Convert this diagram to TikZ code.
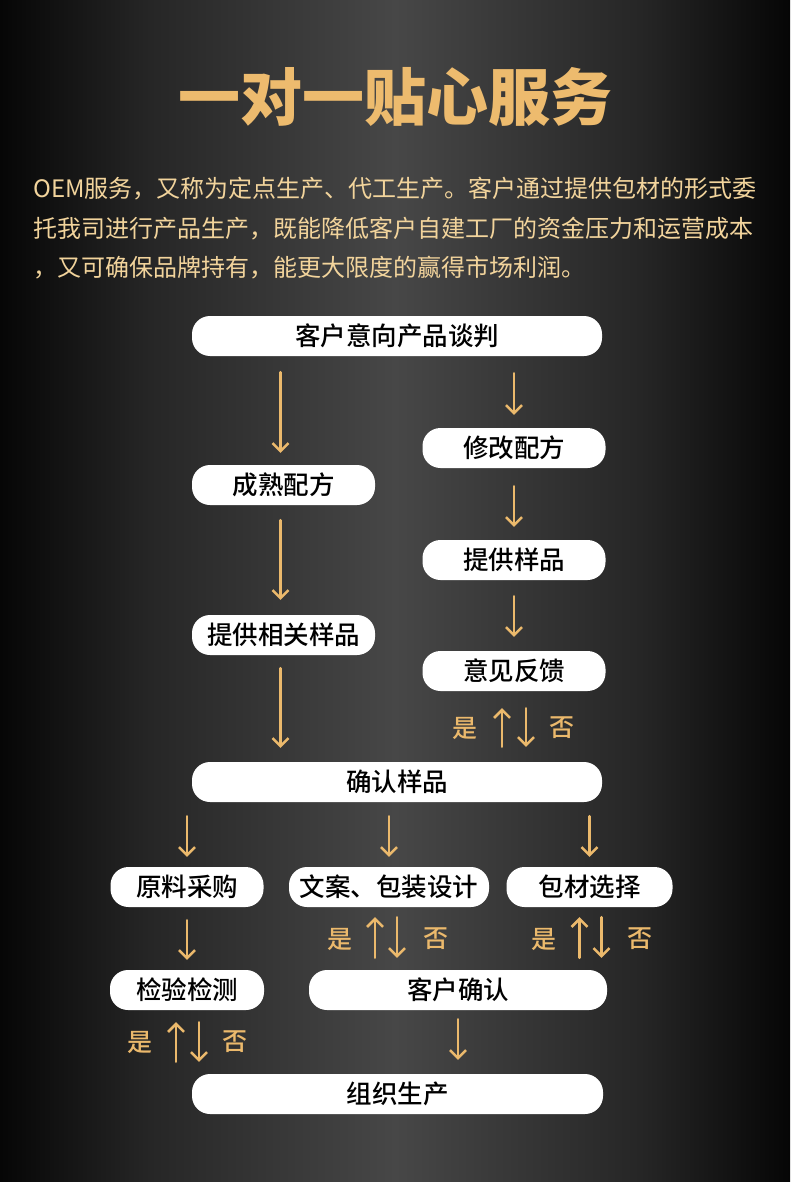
\documentclass[tikz,border=0pt]{standalone}
\usepackage{fontspec}
\newfontfamily\cjk{Noto Sans CJK SC}
\newfontfamily\cjkm{Noto Sans CJK SC Medium}
\usetikzlibrary{arrows.meta}
\definecolor{gold}{HTML}{EBB96C}
\definecolor{titlegold}{HTML}{EDBB6E}
\definecolor{paragold}{HTML}{F2D49C}
\definecolor{bgmid}{HTML}{474747}
\definecolor{bgside}{HTML}{262626}
\definecolor{bgedge}{HTML}{060606}
\begin{document}
\begin{tikzpicture}[x=1pt,y=-1pt,
  box/.style={fill=white, rounded corners=18pt, minimum height=40pt, inner sep=0pt,
    font=\cjkm\fontsize{25.5}{25.5}\selectfont, text=black},
  arr/.style={draw=gold, line width=2.5pt, line cap=round,
    -{Straight Barb[length=8pt,width=16pt,line width=2.5pt]}},
  yn/.style={text=gold, font=\cjkm\fontsize{25}{25}\selectfont, inner sep=0pt},
  para/.style={text=paragold, font=\cjk\fontsize{24}{24}\selectfont, inner sep=0pt, anchor=west}]
% background
\useasboundingbox (0,0) rectangle (790,1182);
\shade[left color=bgedge, right color=bgside] (0,0) rectangle (150,1182);
\shade[left color=bgside, right color=bgmid] (149.5,0) rectangle (395.5,1182);
\shade[left color=bgmid, right color=bgside] (395,0) rectangle (640.5,1182);
\shade[left color=bgside, right color=bgedge] (640,0) rectangle (790,1182);
% title
\node[text=titlegold, font=\cjk\bfseries\fontsize{62}{62}\selectfont, inner sep=0pt] (title) at (395,97) {一对一贴心服务};
% paragraph
\node[para] (p1) at (33,189) {OEM服务，又称为定点生产、代工生产。客户通过提供包材的形式委};
\node[para] (p2) at (33,229) {托我司进行产品生产，既能降低客户自建工厂的资金压力和运营成本};
\node[para] (p3) at (33,268) {，又可确保品牌持有，能更大限度的赢得市场利润。};
% boxes
\node[box, minimum width=410pt] (n1) at (397,336) {客户意向产品谈判};
\node[box, minimum width=183pt] (n2) at (514,448) {修改配方};
\node[box, minimum width=183pt] (n3) at (283.5,485) {成熟配方};
\node[box, minimum width=183pt] (n4) at (514,560) {提供样品};
\node[box, minimum width=183pt] (n5) at (283.5,635) {提供相关样品};
\node[box, minimum width=183pt] (n6) at (514,671) {意见反馈};
\node[box, minimum width=410pt] (n7) at (397,782) {确认样品};
\node[box, minimum width=153pt] (n8) at (187,887) {原料采购};
\node[box, minimum width=200pt] (n9) at (389,887) {文案、包装设计};
\node[box, minimum width=166pt] (n10) at (589.5,887) {包材选择};
\node[box, minimum width=154pt] (n11) at (187,990) {检验检测};
\node[box, minimum width=298pt] (n12) at (458,990) {客户确认};
\node[box, minimum width=411pt] (n13) at (397.5,1094) {组织生产};
% single arrows
\draw[arr, shorten <=16pt, shorten >=12pt] ([xshift=-3pt]n1.south -| n3.north) -- ([xshift=-3pt]n3.north);
\draw[arr, shorten <=17pt, shorten >=13pt] (n1.south -| n2.north) -- (n2.north);
\draw[arr, shorten <=18pt, shorten >=13pt] (n2.south) -- (n4.north);
\draw[arr, shorten <=15pt, shorten >=15pt] ([xshift=-3pt]n3.south) -- ([xshift=-3pt]n5.north);
\draw[arr, shorten <=16pt, shorten >=14pt] (n4.south) -- (n6.north);
\draw[arr, shorten <=13pt, shorten >=14pt] ([xshift=-3pt]n5.south) -- ([xshift=-3pt]n5.south |- n7.north);
\draw[arr, shorten <=14pt, shorten >=10pt] (n7.south -| n8.north) -- (n8.north);
\draw[arr, shorten <=14pt, shorten >=10pt] (n7.south -| n9.north) -- (n9.north);
\draw[arr, shorten <=14pt, shorten >=10pt] (n7.south -| n10.north) -- (n10.north);
\draw[arr, shorten <=13pt, shorten >=10pt] (n8.south) -- (n11.north);
\draw[arr, shorten <=9pt, shorten >=14pt] (n12.south) -- (n12.south |- n13.north);
% paired arrows: feedback -> confirm samples
\draw[arr, shorten <=15pt, shorten >=17pt] ([xshift=-12pt]n6.south |- n7.north) -- ([xshift=-12pt]n6.south);
\draw[arr, shorten <=17pt, shorten >=15pt] ([xshift=12pt]n6.south) -- ([xshift=12pt]n6.south |- n7.north);
\node[yn] (y1) at (465,728) {是};
\node[yn] (f1) at (562,728) {否};
% paired arrows: design -> customer confirm
\draw[arr, shorten <=12pt, shorten >=10pt] ([xshift=-14pt]n9.south |- n12.north) -- ([xshift=-14pt]n9.south);
\draw[arr, shorten <=10pt, shorten >=12pt] ([xshift=8pt]n9.south) -- ([xshift=8pt]n9.south |- n12.north);
\node[yn] (y2) at (340,939) {是};
\node[yn] (f2) at (436,939) {否};
% paired arrows: packaging -> customer confirm
\draw[arr, shorten <=12pt, shorten >=10pt] ([xshift=-10pt]n10.south |- n12.north) -- ([xshift=-10pt]n10.south);
\draw[arr, shorten <=10pt, shorten >=12pt] ([xshift=12pt]n10.south) -- ([xshift=12pt]n10.south |- n12.north);
\node[yn] (y3) at (544,939) {是};
\node[yn] (f3) at (640,939) {否};
% paired arrows: inspection -> production
\draw[arr, shorten <=12pt, shorten >=12pt] ([xshift=-11pt]n11.south |- n13.north) -- ([xshift=-11pt]n11.south);
\draw[arr, shorten <=12pt, shorten >=12pt] ([xshift=12pt]n11.south) -- ([xshift=12pt]n11.south |- n13.north);
\node[yn] (y4) at (140,1042) {是};
\node[yn] (f4) at (235,1042) {否};
\end{tikzpicture}
\end{document}
